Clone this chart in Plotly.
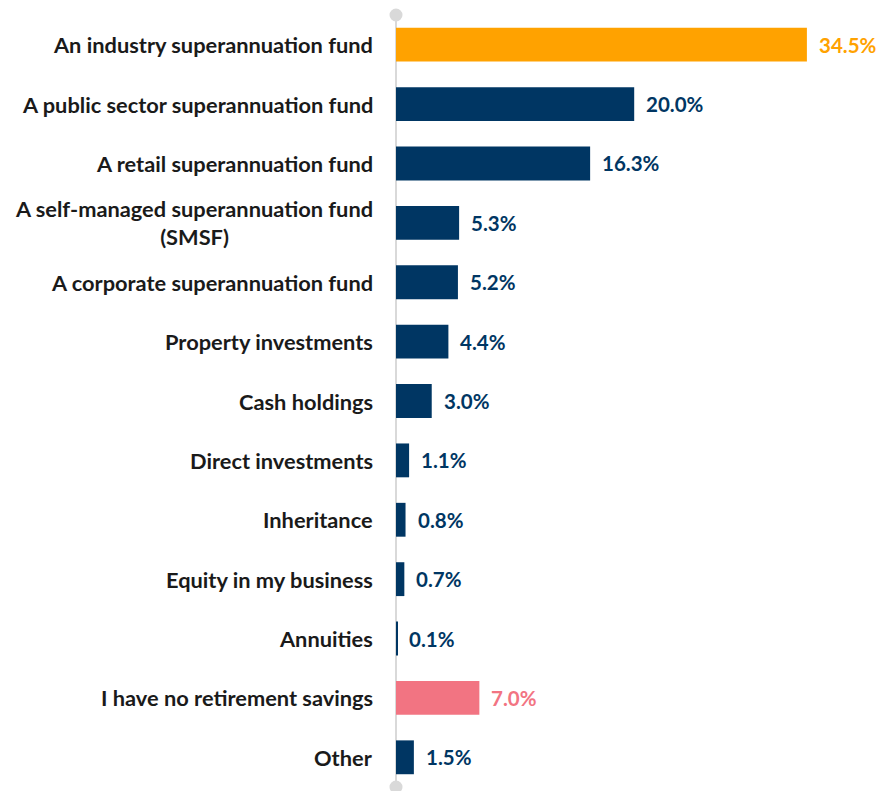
import plotly.graph_objects as go

categories = [
    "An industry superannuation fund",
    "A public sector superannuation fund",
    "A retail superannuation fund",
    "A self-managed superannuation fund<br>(SMSF)",
    "A corporate superannuation fund",
    "Property investments",
    "Cash holdings",
    "Direct investments",
    "Inheritance",
    "Equity in my business",
    "Annuities",
    "I have no retirement savings",
    "Other",
]
values = [34.5, 20.0, 16.3, 5.3, 5.2, 4.4, 3.0, 1.1, 0.8, 0.7, 0.1, 7.0, 1.5]

NAVY = "#003663"
ORANGE = "#FFA200"
PINK = "#F27482"
colors = [ORANGE] + [NAVY] * 10 + [PINK, NAVY]

FONT = "Lato"

fig = go.Figure(
    go.Bar(
        x=values,
        y=categories,
        orientation="h",
        marker=dict(color=colors, line=dict(width=0)),
        width=0.57,
        hoverinfo="skip",
    )
)

annotations = []
for cat, val, col in zip(categories, values, colors):
    # value label just past the end of each bar
    annotations.append(dict(
        x=val, y=cat, xref="x", yref="y",
        text=f"<b>{val:.1f}%</b>", showarrow=False,
        xanchor="left", yanchor="middle", xshift=10,
        font=dict(family=FONT, size=20.5, color=col),
    ))
    # category label to the left of the axis line
    annotations.append(dict(
        x=0, y=cat, xref="x", yref="y",
        text=f"<b>{cat}</b>", showarrow=False,
        xanchor="right", yanchor="middle", xshift=-21,
        align="center",
        font=dict(family=FONT, size=21.8, color="#1a1a1a"),
    ))

shapes = [
    # vertical axis line
    dict(type="line", xref="paper", yref="paper", x0=0, x1=0, y0=0, y1=1,
         line=dict(color="#d9d9d9", width=2), layer="below"),
]
for yp in (0, 1):
    shapes.append(dict(
        type="circle", xref="paper", yref="paper",
        xsizemode="pixel", ysizemode="pixel",
        xanchor=0, yanchor=yp,
        x0=-6.5, x1=6.5, y0=-6.5, y1=6.5,
        fillcolor="#d9d9d9", line=dict(width=0), layer="above",
    ))

fig.update_layout(
    width=882, height=791,
    margin=dict(l=396, r=0, t=15, b=4),
    paper_bgcolor="white", plot_bgcolor="white",
    showlegend=False,
    xaxis=dict(range=[0, 486 / 11.91], visible=False, fixedrange=True),
    yaxis=dict(autorange="reversed", showticklabels=False, showgrid=False,
               zeroline=False, showline=False, ticks=""),
    annotations=annotations,
    shapes=shapes,
)

fig.write_html("out.html")
